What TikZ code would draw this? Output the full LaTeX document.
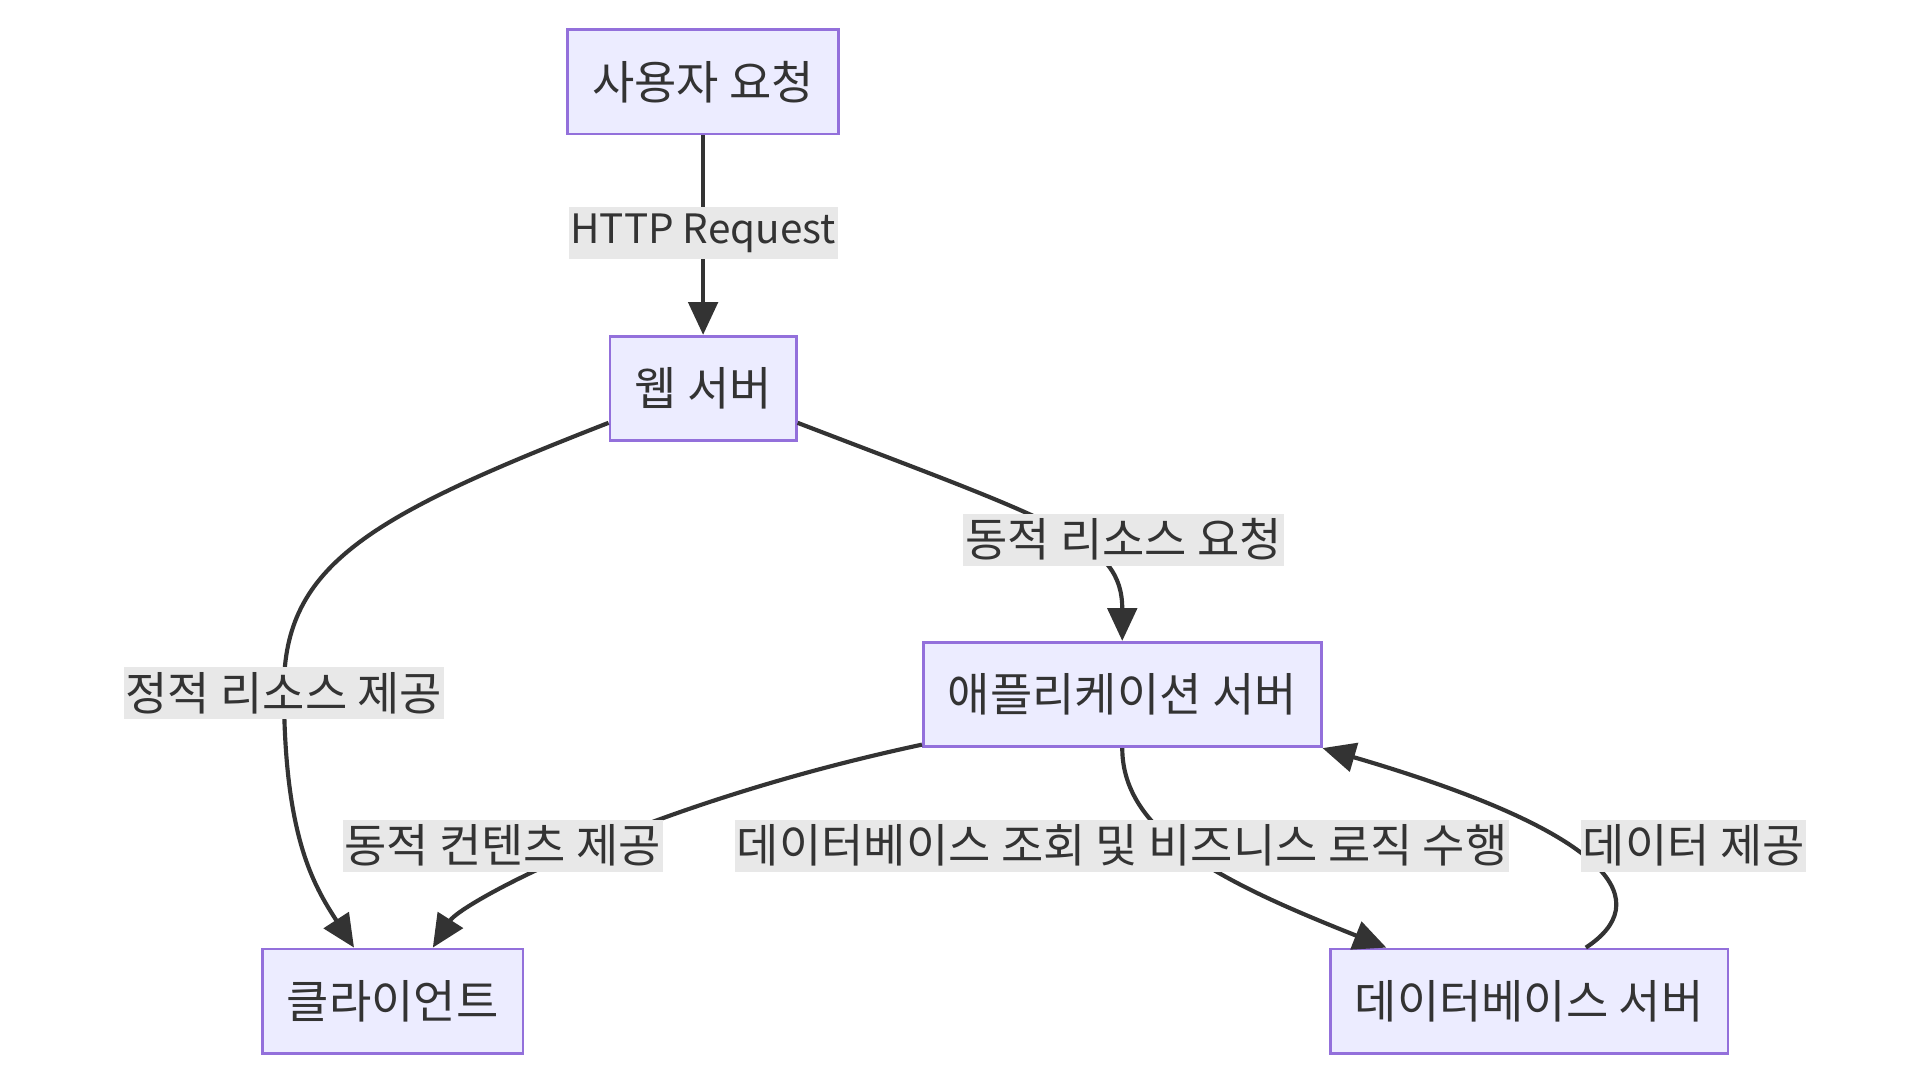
\documentclass[tikz,border=0pt]{standalone}
\usepackage{fontspec}
\setmainfont[RawFeature=+palt]{Noto Sans CJK KR}
\usetikzlibrary{arrows.meta}
\definecolor{boxfill}{HTML}{ECECFF}
\definecolor{boxline}{HTML}{9370DB}
\definecolor{ink}{HTML}{333333}
\definecolor{lblbg}{HTML}{E8E8E8}

\begin{document}
\begin{tikzpicture}[x=0.0125cm,y=-0.0125cm,
    box/.style={draw=boxline,fill=boxfill,line width=0.8pt,minimum height=30.2pt,inner xsep=7.1pt,text=ink,font=\fontsize{13.3pt}{15pt}\selectfont},
    lbl/.style={fill=lblbg,inner xsep=0.5pt,inner ysep=0pt,minimum height=15pt,text=ink,font=\fontsize{13.3pt}{15pt}\selectfont},
    flow/.style={draw=ink,line width=1.2pt,-{Triangle[length=9.5pt,width=8.5pt]}}]
    \useasboundingbox (0,0) rectangle (1562,878.6);
    \node[box] (U) at (572,66.5) {사용자 요청};
    \node[box] (W) at (572,316) {웹 서버};
    \node[box] (A) at (913,565) {애플리케이션 서버};
    \node[box] (C) at (319.5,814.5) {클라이언트};
    \node[box] (D) at (1244,814.5) {데이터베이스 서버};
    \draw[flow] (U) -- (W);
    \draw[flow] (W.-20) .. controls (860,425) and (913,440) .. (A.north);
    \draw[flow] (W.200) .. controls (300,420) and (231,460) .. (231,560) .. controls (231,680) and (255,720) .. ([xshift=-11.2pt]C.north);
    \draw[flow] ([yshift=1pt]A.south west) .. controls (520,655) and (375,735) .. ([xshift=11.6pt]C.north);
    \draw[flow] (A.south) .. controls (913,680) and (1000,720) .. ([xshift=-41.3pt]D.north);
    \draw[flow] ([xshift=16.4pt]D.north) .. controls (1345,735) and (1320,680) .. (A.south east);
    \node[lbl,font=\fontsize{11.7pt}{14pt}\selectfont] (lUW) at (572,189.5) {HTTP Request};
    \node[lbl] (lWA) at (914,439) {동적 리소스 요청};
    \node[lbl] (lWC) at (231,564) {정적 리소스 제공};
    \node[lbl] (lAC) at (409,688) {동적 컨텐츠 제공};
    \node[lbl] (lAD) at (913,688) {데이터베이스 조회 및 비즈니스 로직 수행};
    \node[lbl] (lDA) at (1378,688) {데이터 제공};
\end{tikzpicture}
\end{document}
